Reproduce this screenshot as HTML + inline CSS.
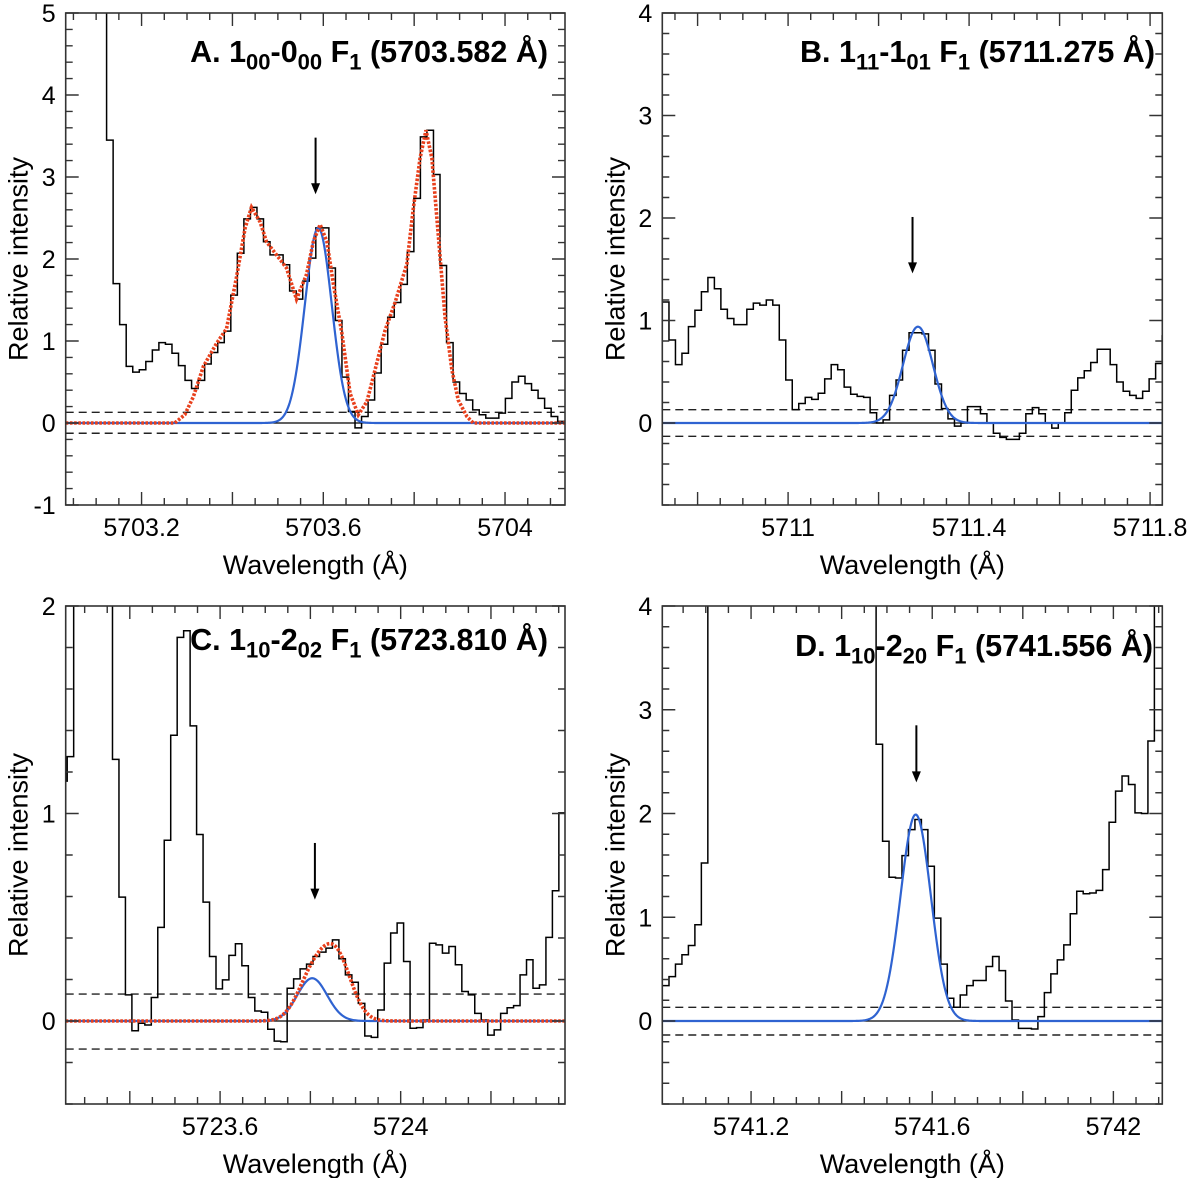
<!DOCTYPE html>
<html><head><meta charset="utf-8"><style>
html,body{margin:0;padding:0;background:#fff;}
svg{display:block;font-family:"Liberation Sans",Arial,sans-serif;}
</style></head><body>
<svg id="fig" width="1200" height="1178" viewBox="0 0 1200 1178" xmlns="http://www.w3.org/2000/svg">
<defs>
<clipPath id="clipA"><rect x="65.7" y="13" width="499.3" height="492"/></clipPath>
<clipPath id="clipB"><rect x="662.3" y="13" width="500" height="492"/></clipPath>
<clipPath id="clipC"><rect x="65.7" y="606" width="499.3" height="498"/></clipPath>
<clipPath id="clipD"><rect x="662.3" y="606" width="500" height="498"/></clipPath>
</defs>
</svg>
<script>
// ---------- Panel A data ----------
const aHistStart = 5703.123;
const aHistWidth = 0.01439;
const aHistValues = [3.45,1.70,1.20,0.69,0.62,0.65,0.75,0.89,0.98,0.96,0.85,0.70,0.52,0.42,0.52,0.72,0.86,0.98,1.12,1.56,2.07,2.49,2.63,2.49,2.21,2.05,2.05,1.93,1.61,1.51,1.73,2.01,2.38,2.38,1.89,1.25,0.56,0.14,-0.06,0.08,0.28,0.61,0.96,1.29,1.47,1.69,2.09,2.74,3.49,3.57,3.03,1.92,0.98,0.50,0.36,0.28,0.16,0.10,0.06,0.06,0.12,0.30,0.50,0.57,0.48,0.40,0.30,0.18,0.08,0.02,0,0,0];
const aPreValue = 6;
const aFitLambda = [5703.033,5703.273,5703.295,5703.314,5703.336,5703.365,5703.387,5703.409,5703.428,5703.442,5703.461,5703.475,5703.497,5703.519,5703.541,5703.563,5703.578,5703.593,5703.608,5703.622,5703.641,5703.659,5703.677,5703.696,5703.714,5703.736,5703.758,5703.784,5703.798,5703.813,5703.826,5703.839,5703.853,5703.868,5703.883,5703.897,5703.916,5703.930,5704.132];
const aFitValues = [0,0,0.10,0.32,0.69,0.97,1.15,1.78,2.38,2.63,2.45,2.21,2.05,1.89,1.51,1.81,2.21,2.42,2.21,1.70,1.09,0.36,0.10,0.26,0.65,1.13,1.47,1.94,2.61,3.23,3.57,3.23,2.30,1.29,0.65,0.28,0.08,0,0];
const aBlueCenter = [5703.589];
const aBlueAmp = [2.38];
const aBlueSigma = [0.0296];
const aArrow = [5703.583, 3.48, 2.79];
const aNoise = [0.13, -0.125];
const aXTickLabels = ["5703.2","5703.6","5704"];
const aYTickLabels = ["-1","0","1","2","3","4","5"];

// ---------- Panel B data ----------
const bHistStart = 5710.7224;
const bHistWidth = 0.01434;
const bHistValues = [1.18,0.81,0.57,0.68,0.94,1.10,1.28,1.42,1.31,1.11,1.02,0.96,0.96,1.11,1.17,1.15,1.20,1.15,0.81,0.42,0.13,0.19,0.25,0.23,0.29,0.43,0.57,0.52,0.35,0.28,0.26,0.25,0.10,0.00,0.03,0.27,0.42,0.71,0.88,0.88,0.87,0.71,0.38,0.14,0.04,-0.03,0,0.16,0.16,0.09,0,-0.10,-0.14,-0.16,-0.16,-0.10,0.09,0.15,0.09,0,-0.05,0,0.10,0.32,0.44,0.51,0.59,0.72,0.72,0.57,0.40,0.31,0.27,0.24,0.31,0.43,0.58,0.85,0.85];
const bBlueCenter = [5711.287];
const bBlueAmp = [0.94];
const bBlueSigma = [0.033];
const bArrow = [5711.275, 2.01, 1.46];
const bNoise = [0.13, -0.13];
const bXTickLabels = ["5711","5711.4","5711.8"];
const bYTickLabels = ["0","1","2","3","4"];

// ---------- Panel C data ----------
const cHistStart = 5723.247;
const cHistWidth = 0.01433;
const cHistValues = [1.156,1.274,2.5,2.5,2.5,2.5,2.5,2.5,1.261,0.597,0.126,-0.047,-0.011,-0.019,0.113,0.451,0.871,1.377,1.849,1.881,1.422,0.899,0.573,0.311,0.155,0.198,0.316,0.372,0.266,0.113,0.048,0.042,-0.040,-0.097,-0.100,0.158,0.203,0.251,0.274,0.311,0.332,0.351,0.391,0.300,0.222,0.187,0.085,-0.072,-0.079,0.053,0.279,0.424,0.472,0.287,-0.035,-0.032,0.005,0.375,0.367,0.327,0.359,0.271,0.142,0.126,0.037,0.005,-0.068,-0.043,0.037,0.064,0.074,0.222,0.295,0.158,0.174,0.403,0.628,1.003,1.003];
const cFitCenter = [5723.804, 5723.858];
const cFitAmp = [0.206, 0.30];
const cFitSigma = [0.033, 0.033];
const cArrow = [5723.810, 0.858, 0.585];
const cNoise = [0.13, -0.135];
const cXTickLabels = ["5723.6","5724"];
const cYTickLabels = ["0","1","2"];

// ---------- Panel D data ----------
const dHistStart = 5741.0045;
const dHistWidth = 0.01429;
const dHistValues = [0.341,0.428,0.548,0.638,0.728,0.928,1.523,5,5,5,5,5,5,5,5,5,5,5,5,5,5,5,5,5,5,5,5,5,5,5,5,5,5,2.667,1.733,1.385,1.378,1.594,1.845,1.942,1.845,1.491,0.992,0.548,0.219,0.132,0.251,0.341,0.390,0.390,0.525,0.622,0.486,0.193,0.010,-0.071,-0.071,-0.077,0.042,0.274,0.454,0.589,0.734,1.034,1.250,1.227,1.234,1.259,1.459,1.916,2.216,2.361,2.280,2.006,2.0,2.699,5,5];
const dBlueCenter = [5741.5635];
const dBlueAmp = [1.99];
const dBlueSigma = [0.0335];
const dArrow = [5741.565, 2.85, 2.30];
const dNoise = [0.132, -0.135];
const dXTickLabels = ["5741.2","5741.6","5742"];
const dYTickLabels = ["0","1","2","3","4"];

const NS = "http://www.w3.org/2000/svg";
const svg = document.getElementById('fig');
function mk(tag, attrs, parent){
  const e = document.createElementNS(NS, tag);
  for (const k in attrs) e.setAttribute(k, attrs[k]);
  (parent||svg).appendChild(e);
  return e;
}
function gauss(l, cs, as, ss){
  let s = 0;
  for (let i=0;i<cs.length;i++) s += as[i]*Math.exp(-Math.pow(l-cs[i],2)/(2*ss[i]*ss[i]));
  return s;
}

function panel(p){
  const g = mk('g', {});
  
  
  const X = l => p.left + (l - p.xmin)/(p.xmax - p.xmin)*(p.right - p.left);
  const Y = v => p.bottom - (v - p.ymin)/(p.ymax - p.ymin)*(p.bottom - p.top);
  const plot = mk('g', {'clip-path':'url(#'+p.clip+')'}, g);
  
  

  const z = mk('line', {x1:p.left, x2:p.right, y1:Y(0), y2:Y(0), stroke:'#000','stroke-width':1.3}, plot);
  
  
  p.noise.forEach((nv, i) => {
    const d = mk('line', {x1:p.left, x2:p.right, y1:Y(nv), y2:Y(nv), stroke:'#222','stroke-width':1.4,'stroke-dasharray':'8 5'}, plot);
    
    
  });
  let path = '';
  const vals = p.hist;
  let x0 = X(p.hStart);
  if (p.pre !== undefined) path = 'M' + p.left + ',' + Y(p.pre) + ' H' + x0 + ' V' + Y(vals[0]);
  else path = 'M' + x0 + ',' + Y(vals[0]);
  for (let i=0;i<vals.length;i++){
    const xe = X(p.hStart + (i+1)*p.hWidth);
    path += ' H' + xe.toFixed(2);
    if (i+1 < vals.length) path += ' V' + Y(vals[i+1]).toFixed(2);
  }
  const h = mk('path', {d:path, fill:'none', stroke:'#000','stroke-width':1.5}, plot);
  
  
  let bp = '';
  for (let px = p.left; px <= p.right; px += 1){
    const l = p.xmin + (px - p.left)/(p.right - p.left)*(p.xmax - p.xmin);
    const v = gauss(l, p.bc, p.ba, p.bs);
    bp += (bp ? ' L' : 'M') + px.toFixed(1) + ',' + Y(v).toFixed(2);
  }
  const b = mk('path', {d:bp, fill:'none', stroke:'#2f63d1','stroke-width':2.2}, plot);
  
  
  if (p.redL){
    const pts = p.redL.map((l,i)=> X(l).toFixed(2)+','+Y(p.redV[i]).toFixed(2)).join(' ');
    const r = mk('polyline', {points:pts, fill:'none', stroke:'#e8401c','stroke-width':3.6,'stroke-dasharray':'2.6 1.6'}, plot);
    
    
  } else if (p.redG){
    let rp = '';
    for (let px = p.left; px <= p.right; px += 1){
      const l = p.xmin + (px - p.left)/(p.right - p.left)*(p.xmax - p.xmin);
      const v = gauss(l, p.redG[0], p.redG[1], p.redG[2]);
      rp += (rp ? ' L' : 'M') + px.toFixed(1) + ',' + Y(v).toFixed(2);
    }
    const r = mk('path', {d:rp, fill:'none', stroke:'#e8401c','stroke-width':3.6,'stroke-dasharray':'2.6 1.6'}, plot);
    
    
  }
  const ax = X(p.arrow[0]), ay1 = Y(p.arrow[1]), ay2 = Y(p.arrow[2]);
  const al = mk('line', {x1:ax, x2:ax, y1:ay1, y2:ay2-9, stroke:'#000','stroke-width':2}, g);
  
  
  const ah = mk('polygon', {points:(ax-4.5)+','+(ay2-11)+' '+(ax+4.5)+','+(ay2-11)+' '+ax+','+ay2, fill:'#000'}, g);
  
  

  const fr = mk('rect', {x:p.left, y:p.top, width:p.right-p.left, height:p.bottom-p.top, fill:'none', stroke:'#333','stroke-width':1.6}, g);
  
  
  let tp = '';
  const xs = 0.05;
  for (let k = Math.ceil(p.xmin/xs - 1e-6); k*xs <= p.xmax + 1e-9; k++){
    const l = k*xs, px = X(l);
    const major = Math.abs(Math.round(l/0.2)*0.2 - l) < 1e-6;
    const len = major ? 13 : 7;
    tp += 'M'+px.toFixed(2)+','+p.bottom+' v'+(-len)+' M'+px.toFixed(2)+','+p.top+' v'+len+' ';
  }
  const ys = 0.2;
  for (let k = Math.ceil(p.ymin/ys - 1e-6); k*ys <= p.ymax + 1e-9; k++){
    const v = k*ys, py = Y(v);
    const major = Math.abs(Math.round(v) - v) < 1e-6;
    const len = major ? 13 : 7;
    tp += 'M'+p.left+','+py.toFixed(2)+' h'+len+' M'+p.right+','+py.toFixed(2)+' h'+(-len)+' ';
  }
  const t = mk('path', {d:tp, stroke:'#333','stroke-width':1.4, fill:'none'}, g);
  
  
  p.xLabels.forEach(s => {
    const tx = mk('text', {x:X(parseFloat(s)), y:p.bottom+31, 'font-size':25, 'text-anchor':'middle', fill:'#000'}, g);
    tx.textContent = s;
    
    
  });
  p.yLabels.forEach(s => {
    const ty = mk('text', {x:p.left-10, y:Y(parseFloat(s))+9, 'font-size':25, 'text-anchor':'end', fill:'#000'}, g);
    ty.textContent = s;
    
    
  });
  const xt = mk('text', {x:(p.left+p.right)/2, y:p.bottom+69, 'font-size':27, 'text-anchor':'middle', fill:'#000'}, g);
  xt.textContent = 'Wavelength (Å)';
  
  
  const cy = (p.top+p.bottom)/2;
  const yt = mk('text', {x:p.left-38, y:cy, 'font-size':27, 'text-anchor':'middle', fill:'#000', transform:'rotate(-90 '+(p.left-38)+' '+cy+')'}, g);
  yt.textContent = 'Relative intensity';
  
  
  const tt = mk('text', {x:p.titleX, y:p.titleY, 'font-size':30.5, 'font-weight':'bold', 'text-anchor':'end', fill:'#000'}, g);
  
  
  p.title.forEach(seg => {
    const ts = mk('tspan', {}, tt);
    if (seg[1]) { ts.setAttribute('font-size', 22); ts.setAttribute('dy', 7.5); }
    else if (seg[2]) { ts.setAttribute('dy', -7.5); }
    ts.textContent = seg[0];
  });
}

panel({name:'panel-a', clip:'clipA', left:65.7, right:565, top:13, bottom:505, xmin:5703.033, xmax:5704.132, ymin:-1, ymax:5,
  hist:aHistValues, hStart:aHistStart, hWidth:aHistWidth, pre:aPreValue,
  bc:aBlueCenter, ba:aBlueAmp, bs:aBlueSigma, redL:aFitLambda, redV:aFitValues,
  arrow:aArrow, noise:aNoise, xLabels:aXTickLabels, yLabels:aYTickLabels, titleX:548, titleY:62,
  title:[['A. 1'],['00',1],['-0',0,1],['00',1],[' F',0,1],['1',1],[' (5703.582 Å)',0,1]]});
panel({name:'panel-b', clip:'clipB', left:662.3, right:1162.3, top:13, bottom:505, xmin:5710.722, xmax:5711.827, ymin:-0.8, ymax:4,
  hist:bHistValues, hStart:bHistStart, hWidth:bHistWidth,
  bc:bBlueCenter, ba:bBlueAmp, bs:bBlueSigma,
  arrow:bArrow, noise:bNoise, xLabels:bXTickLabels, yLabels:bYTickLabels, titleX:1155, titleY:62,
  title:[['B. 1'],['11',1],['-1',0,1],['01',1],[' F',0,1],['1',1],[' (5711.275 Å)',0,1]]});
panel({name:'panel-c', clip:'clipC', left:65.7, right:565, top:606, bottom:1104, xmin:5723.258, xmax:5724.364, ymin:-0.4, ymax:2,
  hist:cHistValues, hStart:cHistStart, hWidth:cHistWidth,
  bc:[cFitCenter[0]], ba:[cFitAmp[0]], bs:[cFitSigma[0]], redG:[cFitCenter, cFitAmp, cFitSigma],
  arrow:cArrow, noise:cNoise, xLabels:cXTickLabels, yLabels:cYTickLabels, titleX:548, titleY:650,
  title:[['C. 1'],['10',1],['-2',0,1],['02',1],[' F',0,1],['1',1],[' (5723.810 Å)',0,1]]});
panel({name:'panel-d', clip:'clipD', left:662.3, right:1162.3, top:606, bottom:1104, xmin:5741.004, xmax:5742.108, ymin:-0.8, ymax:4,
  hist:dHistValues, hStart:dHistStart, hWidth:dHistWidth,
  bc:dBlueCenter, ba:dBlueAmp, bs:dBlueSigma,
  arrow:dArrow, noise:dNoise, xLabels:dXTickLabels, yLabels:dYTickLabels, titleX:1153, titleY:656,
  title:[['D. 1'],['10',1],['-2',0,1],['20',1],[' F',0,1],['1',1],[' (5741.556 Å)',0,1]]});
</script>
</body></html>
